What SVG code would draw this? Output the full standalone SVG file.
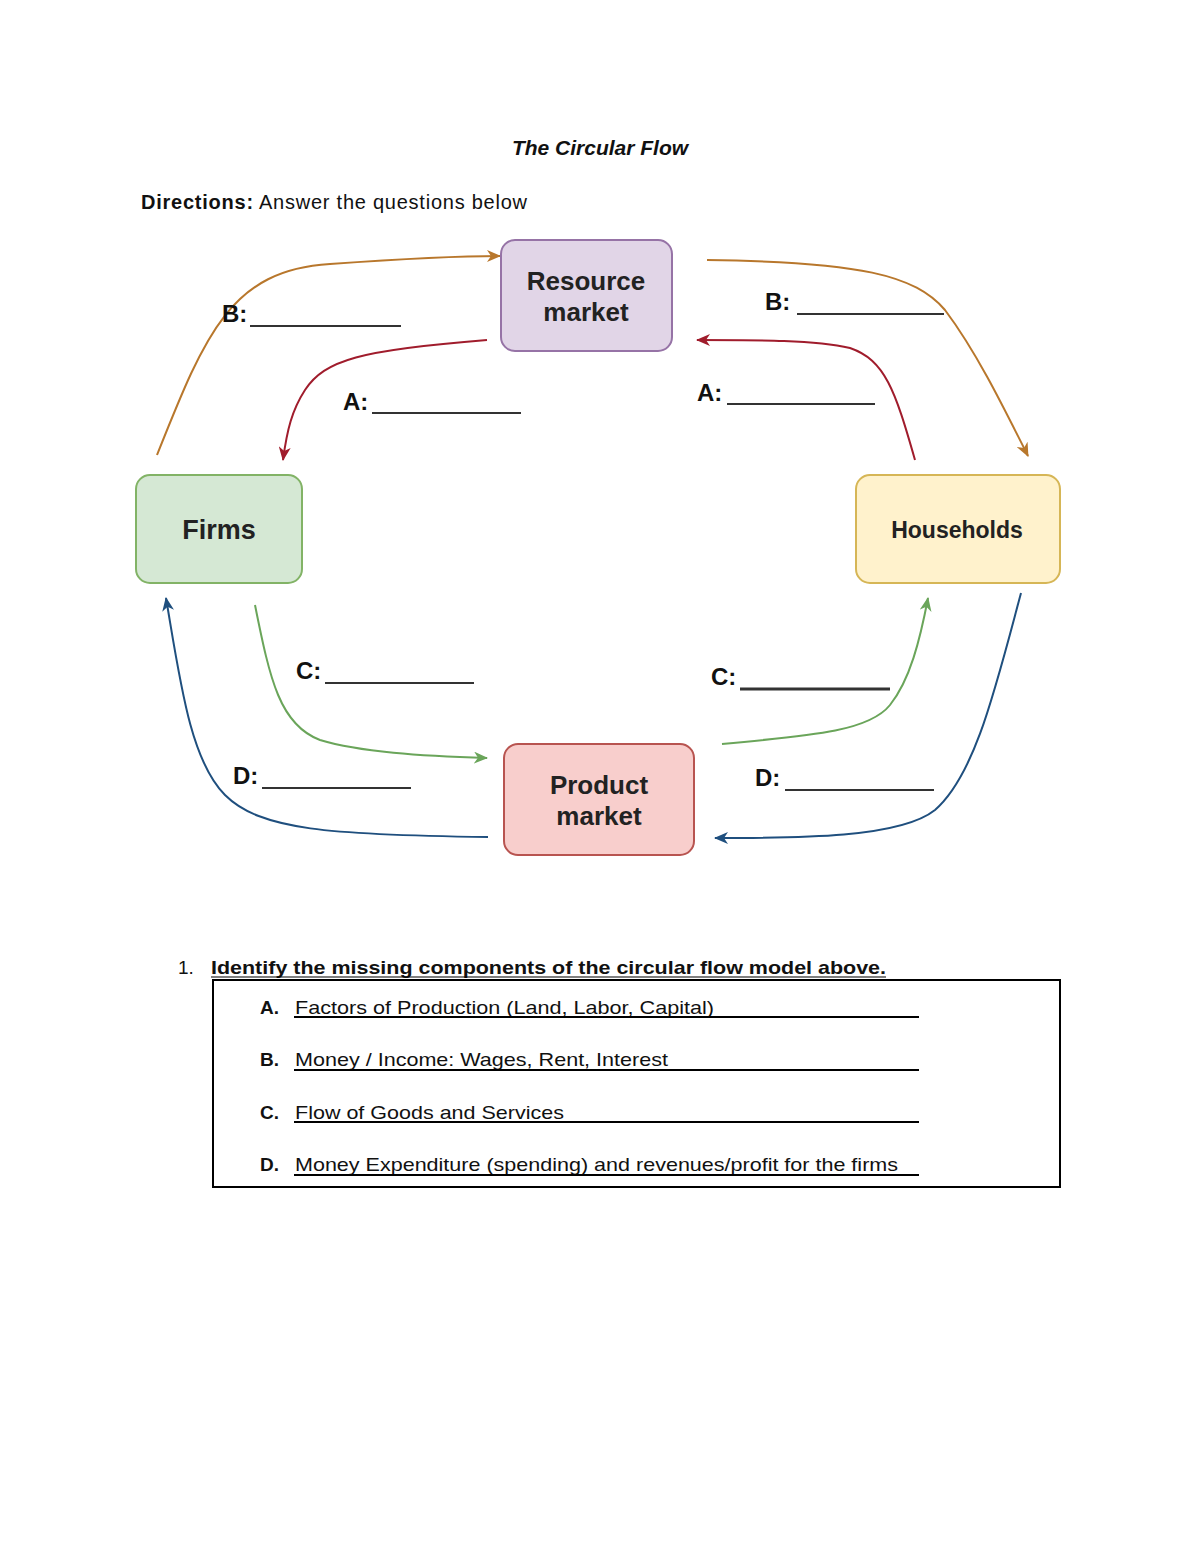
<svg xmlns="http://www.w3.org/2000/svg" width="1200" height="1553" viewBox="0 0 1200 1553">
<style>
text{font-family:"Liberation Sans",Arial,sans-serif;fill:#111}
.node{stroke-width:2}
.nt{font-weight:bold;font-size:26px;text-anchor:middle;fill:#222}
.lbl{font-weight:bold;font-size:24px;fill:#111}
.blank{stroke:#333;stroke-width:2.2}
.con{fill:none;stroke-width:2}
.q{font-size:19px}
.qb{font-size:19px;font-weight:bold}
.ul{stroke:#000;stroke-width:2}
</style>
<defs>
<marker id="mB" viewBox="0 0 14 12" refX="13" refY="6" markerWidth="14" markerHeight="12" markerUnits="userSpaceOnUse" orient="auto"><path d="M0,0 L14,6 L0,12 L4,6 Z" fill="#b8772c"/></marker>
<marker id="mA" viewBox="0 0 14 12" refX="13" refY="6" markerWidth="14" markerHeight="12" markerUnits="userSpaceOnUse" orient="auto"><path d="M0,0 L14,6 L0,12 L4,6 Z" fill="#a01c2c"/></marker>
<marker id="mC" viewBox="0 0 14 12" refX="13" refY="6" markerWidth="14" markerHeight="12" markerUnits="userSpaceOnUse" orient="auto"><path d="M0,0 L14,6 L0,12 L4,6 Z" fill="#6aa55a"/></marker>
<marker id="mD" viewBox="0 0 14 12" refX="13" refY="6" markerWidth="14" markerHeight="12" markerUnits="userSpaceOnUse" orient="auto"><path d="M0,0 L14,6 L0,12 L4,6 Z" fill="#1f4f7e"/></marker>
</defs>
<rect width="1200" height="1553" fill="#fff"/>
<text x="600" y="155" font-size="21" font-weight="bold" font-style="italic" text-anchor="middle">The Circular Flow</text>
<text x="141" y="209" font-size="20" textLength="386" lengthAdjust="spacing"><tspan font-weight="bold">Directions:</tspan> Answer the questions below</text>

<g id="connectors">
<path class="con" stroke="#b8772c" marker-end="url(#mB)" d="M157,455 C205,335 230,270 330,264 C400,259 450,256 500,256"/>
<path class="con" stroke="#b8772c" marker-end="url(#mB)" d="M707,260 C860,262 915,275 945,310 C975,350 1000,400 1028,456"/>
<path class="con" stroke="#a01c2c" marker-end="url(#mA)" d="M487,340 C360,350 325,360 305,390 C292,410 287,430 283,460"/>
<path class="con" stroke="#a01c2c" marker-end="url(#mA)" d="M915,460 C895,390 885,360 850,348 C815,340 760,340 697,340"/>
<path class="con" stroke="#6aa55a" marker-end="url(#mC)" d="M255,605 C270,680 280,725 320,740 C360,752 420,756 487,758"/>
<path class="con" stroke="#6aa55a" marker-end="url(#mC)" d="M722,744 C820,735 870,730 890,705 C910,680 920,640 928,598"/>
<path class="con" stroke="#1f4f7e" marker-end="url(#mD)" d="M488,837 C330,835 260,830 225,795 C190,760 180,680 166,598"/>
<path class="con" stroke="#1f4f7e" marker-end="url(#mD)" d="M1021,593 C995,690 975,775 935,810 C900,838 800,838 715,838"/>
</g>

<g id="resource-market">
<rect class="node" x="501" y="240" width="171" height="111" rx="14" fill="#e1d5e7" stroke="#9673a6"/>
<text class="nt" x="586" y="290">Resource</text>
<text class="nt" x="586" y="321">market</text>
</g>
<g id="firms">
<rect class="node" x="136" y="475" width="166" height="108" rx="14" fill="#d5e8d4" stroke="#82b366"/>
<text class="nt" x="219" y="539" style="font-size:27px">Firms</text>
</g>
<g id="households">
<rect class="node" x="856" y="475" width="204" height="108" rx="14" fill="#fff2cc" stroke="#d6b656"/>
<text class="nt" x="957" y="538" style="font-size:23px">Households</text>
</g>
<g id="product-market">
<rect class="node" x="504" y="744" width="190" height="111" rx="14" fill="#f8cecc" stroke="#b85450"/>
<text class="nt" x="599" y="794">Product</text>
<text class="nt" x="599" y="825">market</text>
</g>

<g id="labels">
<text class="lbl" x="222" y="322">B:</text><line class="blank" x1="250" y1="326" x2="401" y2="326"/>
<text class="lbl" x="343" y="410">A:</text><line class="blank" x1="372" y1="413" x2="521" y2="413"/>
<text class="lbl" x="765" y="310">B:</text><line class="blank" x1="797" y1="314" x2="944" y2="314"/>
<text class="lbl" x="697" y="401">A:</text><line class="blank" x1="727" y1="404" x2="875" y2="404"/>
<text class="lbl" x="296" y="679">C:</text><line class="blank" x1="325" y1="683" x2="474" y2="683"/>
<text class="lbl" x="711" y="685">C:</text><line class="blank" x1="740" y1="689" x2="890" y2="689" style="stroke-width:3"/>
<text class="lbl" x="233" y="784">D:</text><line class="blank" x1="262" y1="788" x2="411" y2="788"/>
<text class="lbl" x="755" y="786">D:</text><line class="blank" x1="785" y1="790" x2="934" y2="790"/>
</g>

<g id="questions">
<text class="q" x="178" y="974">1.</text>
<text class="qb" x="211" y="974" textLength="675" lengthAdjust="spacingAndGlyphs">Identify the missing components of the circular flow model above.</text>
<line x1="211" y1="977" x2="886" y2="977" stroke="#000" stroke-width="1.2"/>
<rect x="213" y="980" width="847" height="207" fill="none" stroke="#000" stroke-width="2"/>
<text class="qb" x="260" y="1014">A.</text>
<text class="q" x="295" y="1014" textLength="419" lengthAdjust="spacingAndGlyphs">Factors of Production (Land, Labor, Capital)</text>
<line class="ul" x1="294" y1="1017" x2="919" y2="1017"/>
<text class="qb" x="260" y="1066">B.</text>
<text class="q" x="295" y="1066" textLength="373" lengthAdjust="spacingAndGlyphs">Money / Income: Wages, Rent, Interest</text>
<line class="ul" x1="294" y1="1070" x2="919" y2="1070"/>
<text class="qb" x="260" y="1119">C.</text>
<text class="q" x="295" y="1119" textLength="269" lengthAdjust="spacingAndGlyphs">Flow of Goods and Services</text>
<line class="ul" x1="294" y1="1122" x2="919" y2="1122"/>
<text class="qb" x="260" y="1171">D.</text>
<text class="q" x="295" y="1171" textLength="603" lengthAdjust="spacingAndGlyphs">Money Expenditure (spending) and revenues/profit for the firms</text>
<line class="ul" x1="294" y1="1175" x2="919" y2="1175"/>
</g>
</svg>
